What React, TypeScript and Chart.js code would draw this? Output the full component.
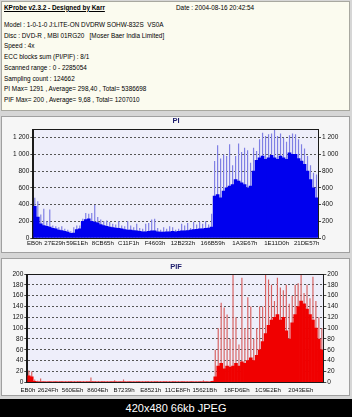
import React, { useEffect, useRef } from "react";
import { Chart, registerables } from "chart.js";

Chart.register(...registerables);

const FONT = "'Liberation Sans', Arial, sans-serif";

// ---- header text ----
const headerTitle = "KProbe v2.3.2 - Designed by Karr";
const headerDate = "Date : 2004-08-16 20:42:54";
const infoLines = [
  "Model : 1-0-1-0 J:LITE-ON DVDRW SOHW-832S  VS0A",
  "Disc : DVD-R , MBI 01RG20   [Moser Baer India Limited]",
  "Speed : 4x",
  "ECC blocks sum (PI/PIF) : 8/1",
  "Scanned range : 0 - 2285054",
  "Sampling count : 124662",
  "PI Max= 1291 , Average= 298,40 , Total= 5386698",
  "PIF Max= 200 , Average= 9,68 , Total= 1207010",
];
const footerText = "420x480 66kb JPEG";

// ---- PI chart data ----
const piBase = [
  380, 250, 170, 150, 140, 130, 115, 110, 95, 90,
  80, 70, 55, 60, 100, 110, 200, 220, 230, 200,
  190, 180, 160, 150, 140, 130, 125, 120, 115, 110,
  100, 95, 95, 90, 85, 80, 75, 75, 80, 85,
  85, 75, 70, 70, 75, 75, 80, 75, 80, 85,
  85, 90, 95, 100, 105, 110, 110, 115, 120, 130,
  500, 520, 480, 560, 600, 620, 640, 700, 680, 660,
  640, 600, 620, 800, 930, 960, 980, 940, 960, 990,
  960, 940, 980, 960, 940, 1020, 1000, 1000, 950, 920,
  880, 800, 700, 600, 480,
];
const piPeak = [
  480, 440, 280, 350, 200, 340, 150, 140, 130, 140,
  110, 100, 80, 130, 150, 150, 230, 300, 290, 300,
  395, 250, 220, 200, 210, 190, 170, 160, 200, 150,
  140, 200, 150, 130, 170, 120, 110, 170, 180, 220,
  230, 120, 100, 130, 110, 140, 130, 100, 110, 170,
  150, 180, 120, 190, 160, 190, 170, 200, 160, 290,
  920, 1110, 950, 1000, 980, 1120, 870, 980, 1130, 1030,
  1080, 1050, 900, 1080, 1040, 1180, 1260, 1220, 1240, 1250,
  1291, 1220, 1250, 1200, 1150, 1230, 1250, 1240, 1180, 1120,
  1070, 980, 870, 780, 760,
];
const piTickPos = [0.4, 7.2, 14.6, 23.2, 31.8, 40.6, 49.9, 59.9, 70.6, 81.2, 91.2];
const piTickLabels = ["EB0h", "27E29h", "59E1Eh", "8CB65h", "C11F1h", "F4603h", "12B232h", "166B59h", "1A3E67h", "1E11D0h", "21DE57h"];
const piYTicks = [0, 200, 400, 600, 800, 1000, 1200];
const piYMax = 1300;

// ---- PIF chart data ----
const pifBase = [
  12, 10, 2, 1, 1, 1, 1, 1, 1, 1,
  1, 1, 1, 1, 1, 1, 1, 1, 1, 1,
  1, 1, 1, 1, 1, 1, 1, 1, 1, 1,
  1, 1, 1, 1, 1, 1, 1, 1, 1, 1,
  1, 1, 1, 1, 1, 1, 1, 1, 1, 1,
  1, 1, 1, 1, 1, 1, 1, 1, 1, 1,
  1, 1, 2, 10, 30, 35, 25, 30, 28, 30,
  35, 30, 38, 35, 40, 45, 40, 50, 60, 75,
  90, 105, 115, 120, 125, 115, 120, 95, 80, 110,
  125, 140, 150, 145, 135, 125, 115, 100, 80, 60,
];
const pifPeak = [
  22, 20, 5, 3, 7, 2, 1, 2, 1, 2,
  1, 2, 1, 1, 2, 1, 1, 2, 1, 1,
  2, 9, 2, 1, 1, 2, 1, 1, 2, 4,
  1, 2, 5, 1, 2, 1, 1, 2, 1, 1,
  2, 1, 1, 2, 1, 1, 2, 1, 1, 2,
  1, 1, 2, 1, 1, 2, 1, 1, 2, 4,
  2, 1, 3, 60, 100, 147, 138, 125, 80, 200,
  120, 70, 193, 100, 157, 140, 80, 100, 140, 140,
  200, 190, 180, 150, 193, 175, 170, 180, 145, 160,
  180, 183, 200, 165, 180, 155, 195, 150, 120, 100,
];
const pifTickPos = [0.2, 7.0, 15.3, 23.8, 32.7, 41.7, 50.7, 59.9, 70.8, 81.3, 92.4];
const pifTickLabels = ["EB0h", "2624Fh", "560EEh", "8604Eh", "B7239h", "E8521h", "11CE8Fh", "15621Bh", "18FD6Eh", "1C9E2Eh", "2043EEh"];
const pifYTicks = [0, 20, 40, 60, 80, 100, 120, 140, 160, 180, 200];
const pifYMax = 200;

type ProbeProps = {
  title: string;
  base: number[];
  peak: number[];
  tickPos: number[];
  tickLabels: string[];
  yTicks: number[];
  yMax: number;
  fill: string;
  spike: string;
  top: number;
  height: number;
  leftW: number;
  rightW: number;
  xH: number;
  xPad: number;
  titleTop: number;
  titleBottom: number;
};

function ProbeChart(p: ProbeProps) {
  const ref = useRef<HTMLCanvasElement>(null);
  useEffect(() => {
    const canvas = ref.current;
    if (!canvas) return;
    const n = p.base.length;
    const fmt = (v: any) => String(v).replace(/\B(?=(\d{3})+(?!\d))/g, " ");
    const tickFont = { family: FONT, size: 6.5 };
    const xFont = { family: FONT, size: 6.1 };
    const frame = {
      id: "frame",
      beforeDraw(chart: any) {
        const { ctx, chartArea: a } = chart;
        ctx.save();
        ctx.fillStyle = "#EEEEFA";
        ctx.fillRect(a.left, a.top, a.right - a.left, a.bottom - a.top);
        ctx.restore();
      },
      afterDraw(chart: any) {
        const { ctx, chartArea: a } = chart;
        ctx.save();
        ctx.strokeStyle = "#1a1a1a";
        ctx.lineWidth = 1;
        ctx.strokeRect(
          Math.round(a.left) - 0.5,
          Math.round(a.top) + 0.5,
          Math.round(a.right - a.left) + 1,
          Math.round(a.bottom - a.top)
        );
        ctx.restore();
      },
    };
    const yAxis = (pos: "left" | "right", onArea: boolean) => ({
      type: "linear",
      position: pos,
      min: 0,
      max: p.yMax,
      afterBuildTicks: (s: any) => {
        s.ticks = p.yTicks.map((v) => ({ value: v }));
      },
      afterFit: (s: any) => {
        s.width = pos === "left" ? p.leftW : p.rightW;
      },
      ticks: { callback: fmt, color: "#111", font: tickFont, padding: 1, autoSkip: false },
      grid: { drawOnChartArea: onArea, color: "#555", tickColor: "#444", tickLength: 3, lineWidth: 1 },
      border: { display: true, color: "#1a1a1a", dash: [2, 2] },
    });
    const chart = new Chart(canvas, {
      type: "bar",
      data: {
        datasets: [
          {
            data: p.base.map((v, i) => ({ x: i + 0.5, y: v })),
            backgroundColor: p.fill,
            barPercentage: 1,
            categoryPercentage: 1,
            grouped: false,
            yAxisID: "y",
          } as any,
          {
            data: p.peak.map((v, i) => ({ x: i + 0.5, y: v })),
            backgroundColor: p.spike,
            barPercentage: 0.4,
            categoryPercentage: 1,
            grouped: false,
            yAxisID: "y",
          } as any,
        ],
      },
      options: {
        animation: false,
        responsive: false,
        maintainAspectRatio: false,
        layout: { padding: 0 },
        plugins: {
          legend: { display: false },
          tooltip: { enabled: false },
          title: {
            display: true,
            text: p.title,
            color: "#1c1c6c",
            font: { family: FONT, size: 7.5, weight: "bold", lineHeight: 1 },
            padding: { top: p.titleTop, bottom: p.titleBottom },
          },
        },
        scales: {
          x: {
            type: "linear",
            min: 0,
            max: n,
            offset: false,
            afterBuildTicks: (s: any) => {
              s.ticks = p.tickPos.map((v) => ({ value: v }));
            },
            afterFit: (s: any) => {
              s.height = p.xH;
            },
            ticks: {
              autoSkip: false,
              maxRotation: 0,
              minRotation: 0,
              padding: p.xPad,
              color: "#111",
              font: xFont,
              callback: (_v: any, i: number) => p.tickLabels[i],
            },
            grid: { display: false, drawTicks: false },
            border: { display: true, color: "#1a1a1a" },
          },
          y: yAxis("left", true),
          y2: yAxis("right", false),
        },
      } as any,
      plugins: [frame],
    });
    return () => chart.destroy();
  }, []);
  return (
    <canvas
      ref={ref}
      width={352}
      height={p.height}
      style={{ position: "absolute", left: 0, top: p.top, width: 352, height: p.height }}
    />
  );
}

export default function App() {
  const lineStyle = (top: number, left: number): React.CSSProperties => ({
    position: "absolute",
    left,
    top,
    lineHeight: "10px",
    fontSize: "6.4px",
    whiteSpace: "pre",
    color: "#000",
  });
  return (
    <div
      style={{
        position: "absolute",
        left: 0,
        top: 0,
        width: 352,
        height: 417,
        background: "#D6D6D6",
        overflow: "hidden",
        fontFamily: FONT,
      }}
    >
      <div
        style={{
          position: "absolute",
          left: 1,
          top: 1,
          width: 347,
          height: 108,
          background: "#FBFBEF",
          border: "1px solid #A8A8A0",
        }}
      />
      <div style={{ ...lineStyle(2.5, 4), fontWeight: "bold", textDecoration: "underline" }}>{headerTitle}</div>
      <div style={lineStyle(2.5, 176)}>{headerDate}</div>
      {infoLines.map((t, i) => (
        <div key={i} style={lineStyle(20 + i * 10.7, 4)}>
          {t}
        </div>
      ))}
      <div
        style={{
          position: "absolute",
          left: 1,
          top: 116,
          width: 347,
          height: 135,
          background: "#F6F6F6",
          border: "1px solid #A0A0A0",
        }}
      />
      <div
        style={{
          position: "absolute",
          left: 1,
          top: 258,
          width: 347,
          height: 136,
          background: "#F6F6F6",
          border: "1px solid #A0A0A0",
        }}
      />
      <ProbeChart
        title="PI"
        base={piBase}
        peak={piPeak}
        tickPos={piTickPos}
        tickLabels={piTickLabels}
        yTicks={piYTicks}
        yMax={piYMax}
        fill="#0000EE"
        spike="#8080E4"
        top={115}
        height={140}
        leftW={33.3}
        rightW={34}
        xH={17}
        xPad={2}
        titleTop={2.5}
        titleBottom={4.3}
      />
      <ProbeChart
        title="PIF"
        base={pifBase}
        peak={pifPeak}
        tickPos={pifTickPos}
        tickLabels={pifTickLabels}
        yTicks={pifYTicks}
        yMax={pifYMax}
        fill="#F00000"
        spike="#D86464"
        top={259}
        height={137}
        leftW={27.3}
        rightW={28.7}
        xH={13.7}
        xPad={4}
        titleTop={4.2}
        titleBottom={3.3}
      />
      <div
        style={{
          position: "absolute",
          left: 0,
          top: 399,
          width: 352,
          height: 18,
          background: "#000",
          color: "#fff",
          fontSize: "11px",
          lineHeight: "18px",
          textAlign: "center",
        }}
      >
        {footerText}
      </div>
    </div>
  );
}
